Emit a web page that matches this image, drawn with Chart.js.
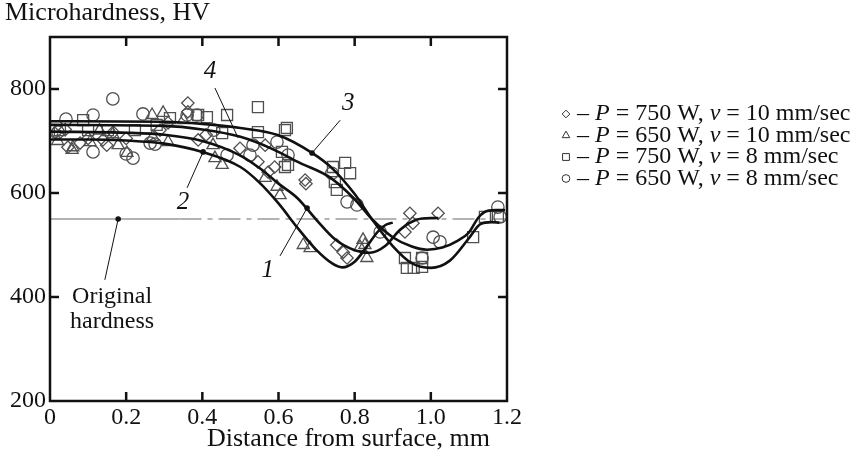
<!DOCTYPE html>
<html><head><meta charset="utf-8">
<script src="https://cdn.jsdelivr.net/npm/chart.js@4.4.1/dist/chart.umd.min.js"></script>
<style>html,body{margin:0;padding:0;background:#fff}#wrap{width:860px;height:459px;position:relative}canvas{display:block}</style>
</head><body><div id="wrap"><canvas id="c" width="860" height="459"></canvas></div>
<script>
// ---- data ----
const xTicks = [0, 0.2, 0.4, 0.6, 0.8, 1.0, 1.2];
const xTickLabels = ['0', '0.2', '0.4', '0.6', '0.8', '1.0', '1.2'];
const yTicks = [200, 400, 600, 800];
const xTitle = 'Distance from surface, mm';
const yTitle = 'Microhardness, HV';
const seriesLabels = ['P = 750 W, v = 10 mm/sec', 'P = 650 W, v = 10 mm/sec', 'P = 750 W, v = 8 mm/sec', 'P = 650 W, v = 8 mm/sec'];
const refHardness = 550;

const diamondPts = [[0.013,715],[0.04,722],[0.047,688],[0.079,696],[0.10,705],[0.139,702],[0.149,692],[0.166,717],[0.20,705],[0.289,721],[0.31,735],[0.362,773],[0.362,756],[0.389,702],[0.41,712],[0.499,686],[0.546,660],[0.565,692],[0.573,640],[0.59,650],[0.67,625],[0.672,618],[0.753,500],[0.77,486],[0.78,475],[0.932,525],[0.945,561],[0.953,542],[1.019,561]];
const trianglePts = [[0.02,700],[0.058,683],[0.06,688],[0.105,698],[0.13,720],[0.165,713],[0.179,692],[0.202,677],[0.268,750],[0.27,708],[0.297,754],[0.31,698],[0.35,740],[0.428,692],[0.433,667],[0.452,654],[0.565,629],[0.596,612],[0.604,596],[0.665,500],[0.683,494],[0.814,496],[0.822,510],[0.827,500],[0.832,475]];
const squarePts = [[0.026,721],[0.087,740],[0.1,721],[0.152,721],[0.223,721],[0.28,731],[0.315,744],[0.389,750],[0.412,746],[0.452,715],[0.465,750],[0.546,765],[0.546,717],[0.609,679],[0.617,721],[0.617,650],[0.625,654],[0.622,725],[0.743,650],[0.748,621],[0.753,606],[0.775,658],[0.788,638],[0.932,475],[0.937,456],[0.955,456],[0.977,475],[0.977,458],[1.111,515],[1.142,554],[1.176,554]];
const circlePts = [[0.021,717],[0.042,742],[0.113,750],[0.113,679],[0.165,781],[0.2,675],[0.218,667],[0.244,752],[0.263,696],[0.276,694],[0.36,750],[0.386,750],[0.43,721],[0.465,673],[0.525,673],[0.533,692],[0.596,698],[0.625,673],[0.74,638],[0.78,583],[0.806,577],[0.867,525],[0.977,475],[1.006,515],[1.024,506],[1.176,573],[1.182,554]];

const curve1 = [[0,718],[0.2,716],[0.3,712],[0.4,700],[0.5,672],[0.55,648],[0.6,618],[0.65,590],[0.7,548],[0.75,510],[0.8,490],[0.84,485],[0.88,498],[0.92,530],[0.96,548],[1.0,552],[1.02,552]];
const curve2 = [[0,703],[0.1,703],[0.2,701],[0.3,695],[0.4,679],[0.5,650],[0.55,620],[0.6,580],[0.65,533],[0.7,490],[0.74,465],[0.767,457],[0.8,468],[0.83,495],[0.86,525],[0.88,538],[0.9,543]];
const curve3 = [[0,738],[0.3,737],[0.4,733],[0.5,725],[0.6,711],[0.688,677],[0.743,646],[0.8,598],[0.845,550],[0.9,498],[0.95,465],[1.0,456],[1.05,470],[1.1,513],[1.13,540],[1.16,544],[1.18,543]];
const curve4 = [[0,731],[0.3,729],[0.4,722],[0.5,708],[0.586,684],[0.656,658],[0.735,630],[0.8,588],[0.845,550],[0.9,515],[0.95,497],[0.99,491],[1.03,495],[1.07,508],[1.1,524],[1.124,552],[1.14,563],[1.17,567],[1.195,567]];

// ---- styling / layout ----
const FONT = '"Liberation Serif", "Times New Roman", serif';
const markColor = '#505050';
const pts = a => a.map(p => ({x: p[0], y: p[1]}));

const markerSets = [
  {data: diamondPts, style: 'rectRot', r: 6.2},
  {data: trianglePts, style: 'triangle', r: 7},
  {data: squarePts, style: 'rect', r: 7.8},
  {data: circlePts, style: 'circle', r: 6.2}
];
const curves = [curve1, curve2, curve3, curve4];

const datasets = [];
datasets.push({
  data: pts([[0, refHardness], [0.34, refHardness], [1.2, refHardness]]),
  showLine: true, borderColor: '#9a9a9a', borderWidth: 1.3, pointRadius: 0, order: 3,
  segment: {borderDash: c => c.p0DataIndex === 0 ? [] : [22, 6, 5, 6]}
});
markerSets.forEach(m => datasets.push({
  data: pts(m.data), showLine: false, pointStyle: m.style, pointRadius: m.r,
  pointBorderColor: markColor, pointBackgroundColor: 'rgba(0,0,0,0)', pointBorderWidth: 1.3, order: 2
}));
curves.forEach(cv => datasets.push({
  data: pts(cv), showLine: true, borderColor: '#111', borderWidth: 2.6, pointRadius: 0,
  cubicInterpolationMode: 'monotone', order: 1
}));

const annotations = {
  curveLabels: [
    {text: '1', at: [0.572, 452], from: [0.604, 479], to: [0.675, 571], dot: true},
    {text: '2', at: [0.349, 581], from: [0.36, 610], to: [0.402, 679], dot: true},
    {text: '3', at: [0.783, 773], from: [0.762, 740], to: [0.688, 677], dot: true},
    {text: '4', at: [0.42, 833], from: [0.433, 802], to: [0.494, 706], dot: false}
  ],
  orig: {lines: ['Original', 'hardness'], at: [0.163, 400], from: [0.144, 433], to: [0.179, refHardness]}
};

const decor = {
  id: 'decor',
  afterDraw(chart) {
    const {ctx, chartArea: a, scales: {x, y}} = chart;
    const X = v => x.getPixelForValue(v), Y = v => y.getPixelForValue(v);
    ctx.save();
    ctx.strokeStyle = '#111'; ctx.lineWidth = 2.5; ctx.lineCap = 'butt';
    ctx.beginPath(); ctx.rect(a.left, a.top, a.right - a.left, a.bottom - a.top); ctx.stroke();
    const tl = 9;
    ctx.beginPath();
    xTicks.forEach(v => { if (v <= x.min || v >= x.max) return; const p = X(v);
      ctx.moveTo(p, a.bottom); ctx.lineTo(p, a.bottom - tl); ctx.moveTo(p, a.top); ctx.lineTo(p, a.top + tl); });
    yTicks.forEach(v => { if (v <= y.min || v >= y.max) return; const p = Y(v);
      ctx.moveTo(a.left, p); ctx.lineTo(a.left + tl, p); ctx.moveTo(a.right, p); ctx.lineTo(a.right - tl, p); });
    ctx.stroke();

    // annotations
    ctx.fillStyle = '#111'; ctx.strokeStyle = '#111'; ctx.lineWidth = 1;
    ctx.textAlign = 'center'; ctx.textBaseline = 'middle';
    ctx.font = 'italic 25px ' + FONT;
    annotations.curveLabels.forEach(l => {
      ctx.fillText(l.text, X(l.at[0]), Y(l.at[1]));
      ctx.beginPath(); ctx.moveTo(X(l.from[0]), Y(l.from[1])); ctx.lineTo(X(l.to[0]), Y(l.to[1])); ctx.stroke();
      if (l.dot) { ctx.beginPath(); ctx.arc(X(l.to[0]), Y(l.to[1]), 2.8, 0, Math.PI * 2); ctx.fill(); }
    });
    const o = annotations.orig;
    ctx.font = '24px ' + FONT;
    o.lines.forEach((t, i) => ctx.fillText(t, X(o.at[0]), Y(o.at[1]) + i * 25));
    ctx.beginPath(); ctx.moveTo(X(o.from[0]), Y(o.from[1])); ctx.lineTo(X(o.to[0]), Y(o.to[1])); ctx.stroke();
    ctx.beginPath(); ctx.arc(X(o.to[0]), Y(o.to[1]), 2.8, 0, Math.PI * 2); ctx.fill();

    // axis titles
    ctx.font = '26px ' + FONT;
    ctx.textAlign = 'left';
    ctx.fillText(yTitle, 5, 13);
    ctx.fillText(xTitle, 207, 439);

    // legend
    const lx = 566, ly0 = 114, dy = 21.5;
    seriesLabels.forEach((lab, i) => {
      const yy = ly0 + i * dy;
      ctx.save();
      ctx.fillStyle = 'rgba(0,0,0,0)'; ctx.strokeStyle = '#333'; ctx.lineWidth = 1;
      Chart.helpers.drawPoint(ctx, {pointStyle: markerSets[i].style, radius: markerSets[i].r * 0.62, borderWidth: 1}, lx, yy);
      ctx.restore();
      let cx = 577;
      const parts = ('\u2013 ' + lab).split(/(\bP\b|\bv\b)/);
      parts.forEach(part => {
        if (!part) return;
        ctx.font = (part === 'P' || part === 'v' ? 'italic ' : '') + '24px ' + FONT;
        ctx.fillText(part, cx, yy);
        cx += ctx.measureText(part).width;
      });
    });
    ctx.restore();
  }
};

new Chart(document.getElementById('c'), {
  type: 'scatter',
  data: {datasets},
  options: {
    responsive: false, animation: false, devicePixelRatio: 1,
    layout: {padding: {left: 0, top: 37, right: 353, bottom: 0}},
    plugins: {legend: {display: false}, tooltip: {enabled: false}},
    elements: {point: {hoverRadius: 0}},
    scales: {
      x: {
        type: 'linear', min: 0, max: 1.2,
        afterBuildTicks: s => { s.ticks = xTicks.map(v => ({value: v})); },
        afterFit: s => { s.height = 58; },
        grid: {display: false, drawTicks: false}, border: {display: false},
        ticks: {callback: (v, i) => xTickLabels[i], font: {family: FONT, size: 24}, color: '#111', padding: 2, maxRotation: 0, autoSkip: false}
      },
      y: {
        type: 'linear', min: 200, max: 900,
        afterBuildTicks: s => { s.ticks = yTicks.map(v => ({value: v})); },
        afterFit: s => { s.width = 50; },
        grid: {display: false, drawTicks: false}, border: {display: false},
        ticks: {font: {family: FONT, size: 24}, color: '#111', padding: 4}
      }
    }
  },
  plugins: [decor]
});
</script>
</body></html>
